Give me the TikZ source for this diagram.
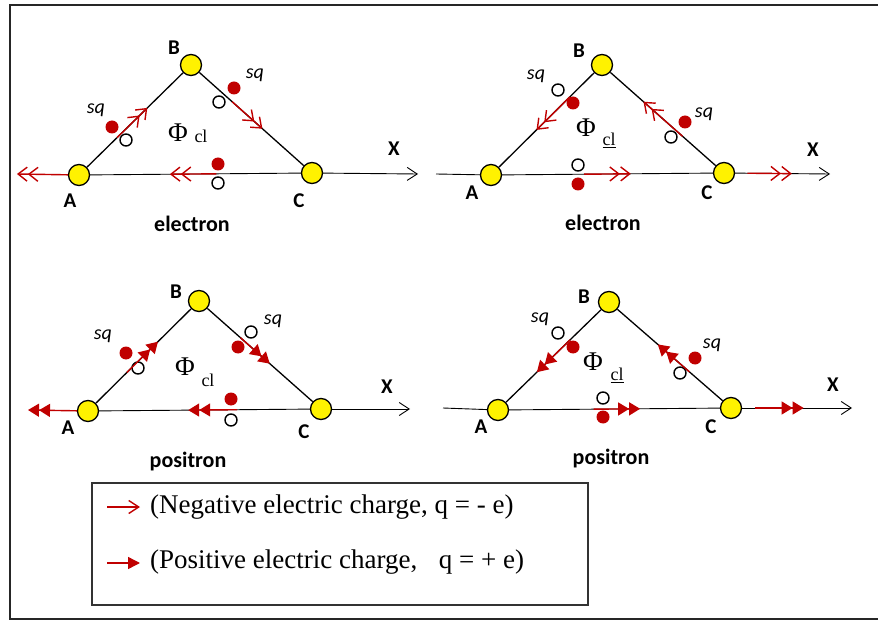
\documentclass[tikz,border=0pt]{standalone}
\usepackage{fontspec}
\setmainfont{Liberation Serif}
\newfontfamily\lblfont{Carlito}
\usetikzlibrary{arrows.meta,calc}
\definecolor{chgred}{RGB}{192,0,0}

\begin{document}
\begin{tikzpicture}[x=1pt,y=-1pt,
vtx/.style={circle,draw,fill=yellow,line width=1.3pt,minimum size=21pt,inner sep=0pt},
ptlbl/.style={font=\lblfont\bfseries\fontsize{21}{21}\selectfont},
sqlbl/.style={font=\lblfont\itshape\fontsize{20}{20}\selectfont},
kindlbl/.style={font=\lblfont\bfseries\fontsize{22}{22}\selectfont},
philbl/.style={font=\fontsize{27}{27}\selectfont},
cllbl/.style={font=\fontsize{18}{18}\selectfont},
legtxt/.style={anchor=west,inner sep=0pt,font=\fontsize{27}{27}\selectfont},
side/.style={line width=1.3pt},
axisline/.style={line width=0.9pt},
axis/.style={line width=0.9pt,-{Straight Barb[length=10pt,width=13pt]}},
negchg/.style={chgred,line width=1.4pt,-{Straight Barb[length=9pt,width=14pt] Straight Barb[length=9pt,width=14pt]}},
poschg/.style={chgred,line width=1.4pt,-{Triangle[length=11pt,width=13pt] Triangle[length=11pt,width=13pt]}},
negone/.style={chgred,line width=1.4pt,-{Straight Barb[length=10pt,width=13pt]}},
posone/.style={chgred,line width=1.4pt,-{Triangle[length=12pt,width=12pt]}},
fdot/.style={fill=chgred},
odot/.style={draw,fill=white,line width=1.4pt}
]
\useasboundingbox (0,0) rectangle (878,620);
\draw[line width=1.8pt,black!85] (878,5) -- (10,5) -- (10,619) -- (878,619);

% electron, q = -e
\node[vtx] (A1) at (79,175) {};
\node[vtx] (B1) at (191,65) {};
\node[vtx] (C1) at (312,173) {};
\coordinate (xe1) at (418,174);
\coordinate (xl1) at (17,174);
\draw[side] (A1) -- (B1) -- (C1);
\draw[axisline] (A1) -- (C1);
\draw[axis] (C1) -- (xe1);
\node[ptlbl] (lA1) at (70,201) {A};
\node[ptlbl] (lB1) at (174,48) {B};
\node[ptlbl] (lC1) at (299,201) {C};
\node[ptlbl] (lX1) at (394,149) {X};
\node[kindlbl] (kind1) at (192,224) {electron};
\node[sqlbl] (sqa1) at (96,110) {sq};
\node[sqlbl] (sqb1) at (255,75) {sq};
\node[philbl] (phi1) at (178,133) {Φ};
\node[cllbl] (cl1) at (201,136) {cl};
\fill[fdot] (112,127) circle (6.5pt);
\draw[odot] (126,140) circle (6pt);
\fill[fdot] (234,88) circle (6.5pt);
\draw[odot] (219,102) circle (6pt);
\fill[fdot] (218,164) circle (6.5pt);
\draw[odot] (218,183) circle (6pt);
\draw[negchg] ($(A1)!.34!(B1)$) -- ($(A1)!.61!(B1)$);
\draw[negchg] ($(B1)!.34!(C1)$) -- ($(B1)!.59!(C1)$);
\draw[negchg] ($(A1)!.59!(C1)$) -- ($(A1)!.39!(C1)$);
\draw[negchg] (A1) -- (xl1);

% electron, reversed
\node[vtx] (A2) at (491,175) {};
\node[vtx] (B2) at (602,65) {};
\node[vtx] (C2) at (724,173) {};
\coordinate (xs2) at (436,174);
\coordinate (xe2) at (830,174);
\draw[side] (A2) -- (B2) -- (C2);
\draw[axisline] (xs2) -- (A2) -- (C2);
\draw[axis] (C2) -- (xe2);
\node[ptlbl] (lA2) at (472,193) {A};
\node[ptlbl] (lB2) at (579,51) {B};
\node[ptlbl] (lC2) at (707,193) {C};
\node[ptlbl] (lX2) at (813,150) {X};
\node[kindlbl] (kind2) at (603,223) {electron};
\node[sqlbl] (sqa2) at (536,76) {sq};
\node[sqlbl] (sqb2) at (704,114) {sq};
\node[philbl] (phi2) at (586,128) {Φ};
\node[cllbl] (cl2) at (609,140) {\underline{cl}};
\draw[odot] (558,90) circle (6pt);
\fill[fdot] (573,103) circle (6.5pt);
\fill[fdot] (685,122) circle (6.5pt);
\draw[odot] (671,137) circle (6pt);
\draw[odot] (578,165) circle (6pt);
\fill[fdot] (578,184) circle (6.5pt);
\draw[negchg] ($(B2)!.29!(A2)$) -- ($(B2)!.59!(A2)$);
\draw[negchg] ($(C2)!.34!(B2)$) -- ($(C2)!.66!(B2)$);
\draw[negchg] ($(A2)!.40!(C2)$) -- ($(A2)!.60!(C2)$);
\draw[negchg] ($(C2)!.22!(xe2)$) -- ($(C2)!.64!(xe2)$);

% positron, q = +e
\node[vtx] (A3) at (88,411) {};
\node[vtx] (B3) at (199,301) {};
\node[vtx] (C3) at (321,409) {};
\coordinate (xe3) at (410,409);
\coordinate (xl3) at (28,410);
\draw[side] (A3) -- (B3) -- (C3);
\draw[axisline] (A3) -- (C3);
\draw[axis] (C3) -- (xe3);
\node[ptlbl] (lA3) at (68,428) {A};
\node[ptlbl] (lB3) at (176,292) {B};
\node[ptlbl] (lC3) at (304,432) {C};
\node[ptlbl] (lX3) at (387,387) {X};
\node[kindlbl] (kind3) at (188,462) {positron};
\node[sqlbl] (sqa3) at (103,336) {sq};
\node[sqlbl] (sqb3) at (273,321) {sq};
\node[philbl] (phi3) at (185,367) {Φ};
\node[cllbl] (cl3) at (208,380) {cl};
\fill[fdot] (126,353) circle (6.5pt);
\draw[odot] (138,368) circle (6pt);
\fill[fdot] (238,347) circle (6.5pt);
\draw[odot] (251,332) circle (6pt);
\fill[fdot] (231,399) circle (6.5pt);
\draw[odot] (231,420) circle (6pt);
\draw[poschg] ($(A3)!.35!(B3)$) -- ($(A3)!.63!(B3)$);
\draw[poschg] ($(B3)!.34!(C3)$) -- ($(B3)!.58!(C3)$);
\draw[poschg] ($(A3)!.64!(C3)$) -- ($(A3)!.43!(C3)$);
\draw[poschg] (A3) -- (xl3);

% positron, reversed
\node[vtx] (A4) at (498,410) {};
\node[vtx] (B4) at (609,302) {};
\node[vtx] (C4) at (731,408) {};
\coordinate (xs4) at (443,408);
\coordinate (xe4) at (852,408);
\draw[side] (A4) -- (B4) -- (C4);
\draw[axisline] (xs4) -- (A4) -- (C4);
\draw[axis] (C4) -- (xe4);
\node[ptlbl] (lA4) at (481,427) {A};
\node[ptlbl] (lB4) at (584,297) {B};
\node[ptlbl] (lC4) at (711,427) {C};
\node[ptlbl] (lX4) at (833,385) {X};
\node[kindlbl] (kind4) at (611,459) {positron};
\node[sqlbl] (sqa4) at (540,319) {sq};
\node[sqlbl] (sqb4) at (712,345) {sq};
\node[philbl] (phi4) at (593,362) {Φ};
\node[cllbl] (cl4) at (617,375) {\underline{cl}};
\draw[odot] (558,333) circle (6pt);
\fill[fdot] (573,347) circle (6.5pt);
\fill[fdot] (695,358) circle (6.5pt);
\draw[odot] (680,373) circle (6pt);
\draw[odot] (603,398) circle (6pt);
\fill[fdot] (603,417) circle (6.5pt);
\draw[poschg] ($(B4)!.35!(A4)$) -- ($(B4)!.65!(A4)$);
\draw[poschg] ($(C4)!.34!(B4)$) -- ($(C4)!.60!(B4)$);
\draw[poschg] ($(A4)!.41!(C4)$) -- ($(A4)!.61!(C4)$);
\draw[poschg] ($(C4)!.20!(xe4)$) -- ($(C4)!.60!(xe4)$);

% legend
\node[draw,line width=1.3pt,black!80,minimum width=496pt,minimum height=122pt,inner sep=0pt] (legend) at (340,544) {};
\node[legtxt] (negtxt) at (150,507) {(Negative electric charge, q = - e)};
\node[legtxt] (postxt) at (150,562) {(Positive electric charge,\hspace{0.8em}q = + e)};
\coordinate (negarr) at (107,507);
\coordinate (posarr) at (107,563);
\draw[negone] (negarr) -- ++(33,0);
\draw[posone] (posarr) -- ++(33,0);
\end{tikzpicture}
\end{document}
